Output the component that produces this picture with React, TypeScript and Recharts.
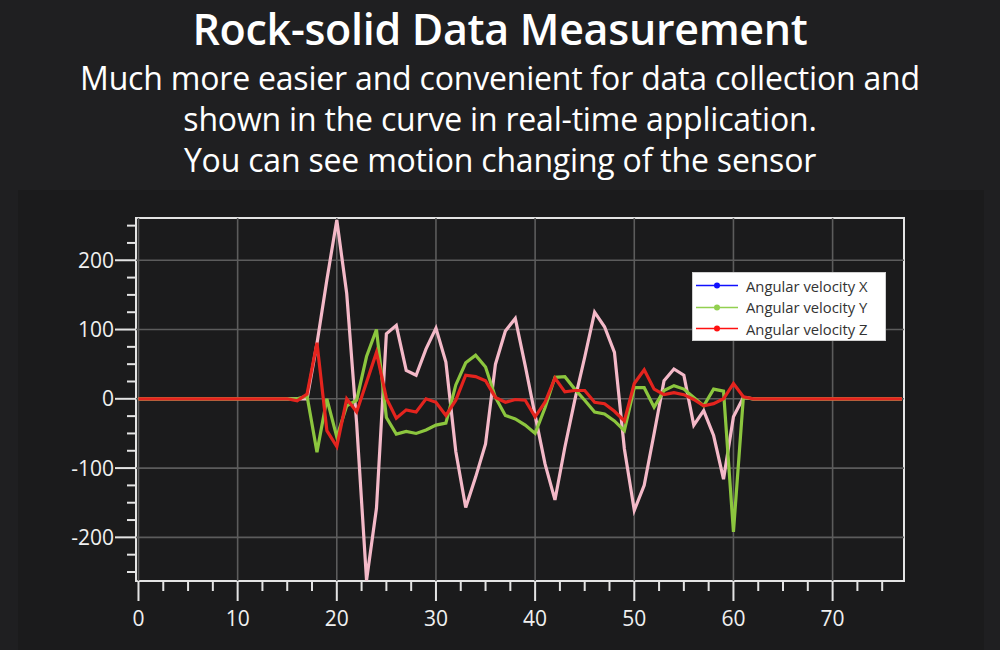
import React from 'react';
import { LineChart, Line, XAxis, YAxis, ReferenceLine, ReferenceArea, Legend } from 'recharts';

const TIME = [
  0, 1, 2, 3, 4, 5, 6, 7, 8, 9, 10, 11, 12, 13, 14, 15, 16, 17, 18, 19,
  20, 21, 22, 23, 24, 25, 26, 27, 28, 29, 30, 31, 32, 33, 34, 35, 36, 37, 38, 39,
  40, 41, 42, 43, 44, 45, 46, 47, 48, 49, 50, 51, 52, 53, 54, 55, 56, 57, 58, 59,
  60, 61, 62, 63, 64, 65, 66, 67, 68, 69, 70, 71, 72, 73, 74, 75, 76, 77,
];

const ANG_X = [
  0, 0, 0, 0, 0, 0, 0, 0, 0, 0, 0, 0, 0, 0, 0, 0, 0, 0,
  80, 172, 258, 152, -35, -262, -158, 94, 106, 41, 34, 72, 102, 53, -76, -157,
  -113, -65, 50, 98, 116, 48, -24, -94, -146, -70, -2, 60, 125, 104, 67, -72,
  -161, -125, -50, 26, 43, 34, -38, -17, -53, -116, -26, 2,
  0, 0, 0, 0, 0, 0, 0, 0, 0, 0, 0, 0, 0, 0, 0, 0,
];

const ANG_Y = [
  0, 0, 0, 0, 0, 0, 0, 0, 0, 0, 0, 0, 0, 0, 0, 0, 0,
  4, -77, 0, -55, -10, -2, 61, 100, -27, -51, -47, -50, -45, -38, -35, 20, 52,
  63, 46, 2, -24, -29, -38, -50, -13, 31, 32, 14, -2, -19, -22, -32, -46,
  16, 16, -12, 12, 19, 14, 2, -10, 14, 11, -192, 2,
  0, 0, 0, 0, 0, 0, 0, 0, 0, 0, 0, 0, 0, 0, 0, 0,
];

const ANG_Z = [
  0, 0, 0, 0, 0, 0, 0, 0, 0, 0, 0, 0, 0, 0, 0, 0,
  -3, 7, 81, -46, -69, 0, -19, 24, 67, 1, -28, -16, -19, 0, -5, -24, -2, 34,
  32, 26, 2, -5, -1, -2, -26, -5, 30, 10, 12, 12, -5, -7, -18, -32,
  22, 42, 14, 6, 9, 6, -1, -10, -7, 0, 22, 3,
  0, 0, 0, 0, 0, 0, 0, 0, 0, 0, 0, 0, 0, 0, 0, 0,
];

const SERIES_KEYS = ['x', 'y', 'z'];
const SERIES_NAMES = ['Angular velocity X', 'Angular velocity Y', 'Angular velocity Z'];
const LINE_COLORS = ['#f4b9c8', '#8cc63e', '#e4241e'];
const LEGEND_COLORS = ['#1010ff', '#92d050', '#ff1010'];

const X_TICKS = [0, 2.5, 5, 7.5, 10, 12.5, 15, 17.5, 20, 22.5, 25, 27.5, 30, 32.5, 35, 37.5, 40, 42.5, 45, 47.5, 50, 52.5, 55, 57.5, 60, 62.5, 65, 67.5, 70, 72.5, 75];
const X_GRID = [0, 10, 20, 30, 40, 50, 60, 70];
const Y_TICKS = [-250, -225, -200, -175, -150, -125, -100, -75, -50, -25, 0, 25, 50, 75, 100, 125, 150, 175, 200, 225, 250];
const Y_GRID = [-200, -100, 0, 100, 200];
const X_DOMAIN = [-0.25, 77.2];
const Y_DOMAIN = [-263, 261];

const TITLE = 'Rock-solid Data Measurement';
const SUBTITLE = [
  'Much more easier and convenient for data collection and',
  'shown in the curve in real-time application.',
  'You can see motion changing of the sensor',
];

const data = TIME.map((t, i) => ({ t, x: ANG_X[i], y: ANG_Y[i], z: ANG_Z[i] }));

const AXIS_COLOR = '#e4e4e4';
const LABEL_FONT = '"Open Sans", "DejaVu Sans", sans-serif';

const XTick = (props: any) => {
  const { x, y, payload } = props;
  const v = payload.value;
  const major = v % 10 === 0;
  return (
    <g>
      <line x1={x} x2={x} y1={y} y2={y + (major ? 20 : 10)} stroke={AXIS_COLOR} strokeWidth={2} />
      {major && (
        <text x={x} y={y + 45} textAnchor="middle" fill="#f0f0f0" fontSize={21} fontFamily={LABEL_FONT}>
          {v}
        </text>
      )}
    </g>
  );
};

const YTick = (props: any) => {
  const { x, y, payload } = props;
  const v = payload.value;
  const major = v % 100 === 0;
  return (
    <g>
      <line x1={x - (major ? 21 : 9)} x2={x} y1={y} y2={y} stroke={AXIS_COLOR} strokeWidth={2} />
      {major && (
        <text x={x - 22} y={y} dy="0.36em" textAnchor="end" fill="#f0f0f0" fontSize={21} fontFamily={LABEL_FONT}>
          {String(v)}
        </text>
      )}
    </g>
  );
};

const LegendBox = () => (
  <div
    style={{
      width: 194,
      height: 69,
      background: '#ffffff',
      border: '1px solid #d0d0d0',
      boxSizing: 'border-box',
      paddingTop: 2,
      fontFamily: LABEL_FONT,
      fontSize: 14.8,
      color: '#333333',
    }}
  >
    {SERIES_NAMES.map((n, i) => (
      <div key={n} style={{ display: 'flex', alignItems: 'center', height: 21.5, whiteSpace: 'nowrap' }}>
        <svg width={53} height={21} style={{ flex: 'none' }}>
          <line x1={3} x2={45} y1={10.5} y2={10.5} stroke={LEGEND_COLORS[i]} strokeWidth={1.5} />
          <circle cx={24} cy={10.5} r={3} fill={LEGEND_COLORS[i]} />
        </svg>
        <span>{n}</span>
      </div>
    ))}
  </div>
);

export default function App() {
  return (
    <div
      style={{
        position: 'fixed',
        left: 0,
        top: 0,
        width: 1000,
        height: 650,
        background: '#1f1f21',
        overflow: 'hidden',
      }}
    >
      <div
        style={{
          position: 'absolute',
          left: 18,
          top: 190,
          width: 966,
          height: 460,
          background: '#1b1b1c',
        }}
      />
      <div style={{ position: 'absolute', left: 0, top: 0 }}>
        <LineChart width={1000} height={650} data={data} margin={{ top: 218, right: 96, bottom: 0, left: 0 }}>
          <XAxis
            dataKey="t"
            type="number"
            domain={X_DOMAIN}
            ticks={X_TICKS}
            interval={0}
            height={69}
            tickSize={0}
            tickMargin={0}
            axisLine={false}
            tickLine={false}
            tick={<XTick />}
            allowDataOverflow
          />
          <YAxis
            type="number"
            domain={Y_DOMAIN}
            ticks={Y_TICKS}
            interval={0}
            width={136}
            tickSize={0}
            tickMargin={0}
            axisLine={false}
            tickLine={false}
            tick={<YTick />}
            allowDataOverflow
          />
          {X_GRID.map((v) => (
            <ReferenceLine key={'gx' + v} x={v} stroke="#5c5c5c" strokeWidth={1.6} />
          ))}
          {Y_GRID.map((v) => (
            <ReferenceLine key={'gy' + v} y={v} stroke="#5c5c5c" strokeWidth={1.6} />
          ))}
          {SERIES_KEYS.map((k, i) => (
            <Line
              key={k}
              dataKey={k}
              name={SERIES_NAMES[i]}
              stroke={LINE_COLORS[i]}
              strokeWidth={3.2}
              dot={false}
              activeDot={false}
              isAnimationActive={false}
              strokeLinejoin="miter"
            />
          ))}
          <ReferenceArea
            x1={X_DOMAIN[0]}
            x2={X_DOMAIN[1]}
            y1={Y_DOMAIN[0]}
            y2={Y_DOMAIN[1]}
            fill="none"
            fillOpacity={0}
            stroke={AXIS_COLOR}
            strokeWidth={2}
          />
          <Legend
            layout="horizontal"
            verticalAlign="middle"
            align="center"
            content={<LegendBox />}
            wrapperStyle={{ left: 692, top: 272, width: 194, height: 69 }}
          />
        </LineChart>
      </div>
      <div
        style={{
          position: 'absolute',
          left: 0,
          top: 0,
          width: 1000,
          textAlign: 'center',
          color: '#ffffff',
          fontFamily: '"Open Sans", "Noto Sans", sans-serif',
        }}
      >
        <div style={{ fontSize: 43, fontWeight: 600, lineHeight: '56px', marginTop: 1, letterSpacing: -0.3 }}>{TITLE}</div>
        {SUBTITLE.map((s) => (
          <div key={s} style={{ fontSize: 32, lineHeight: '41px', letterSpacing: -0.2 }}>
            {s}
          </div>
        ))}
      </div>
    </div>
  );
}
